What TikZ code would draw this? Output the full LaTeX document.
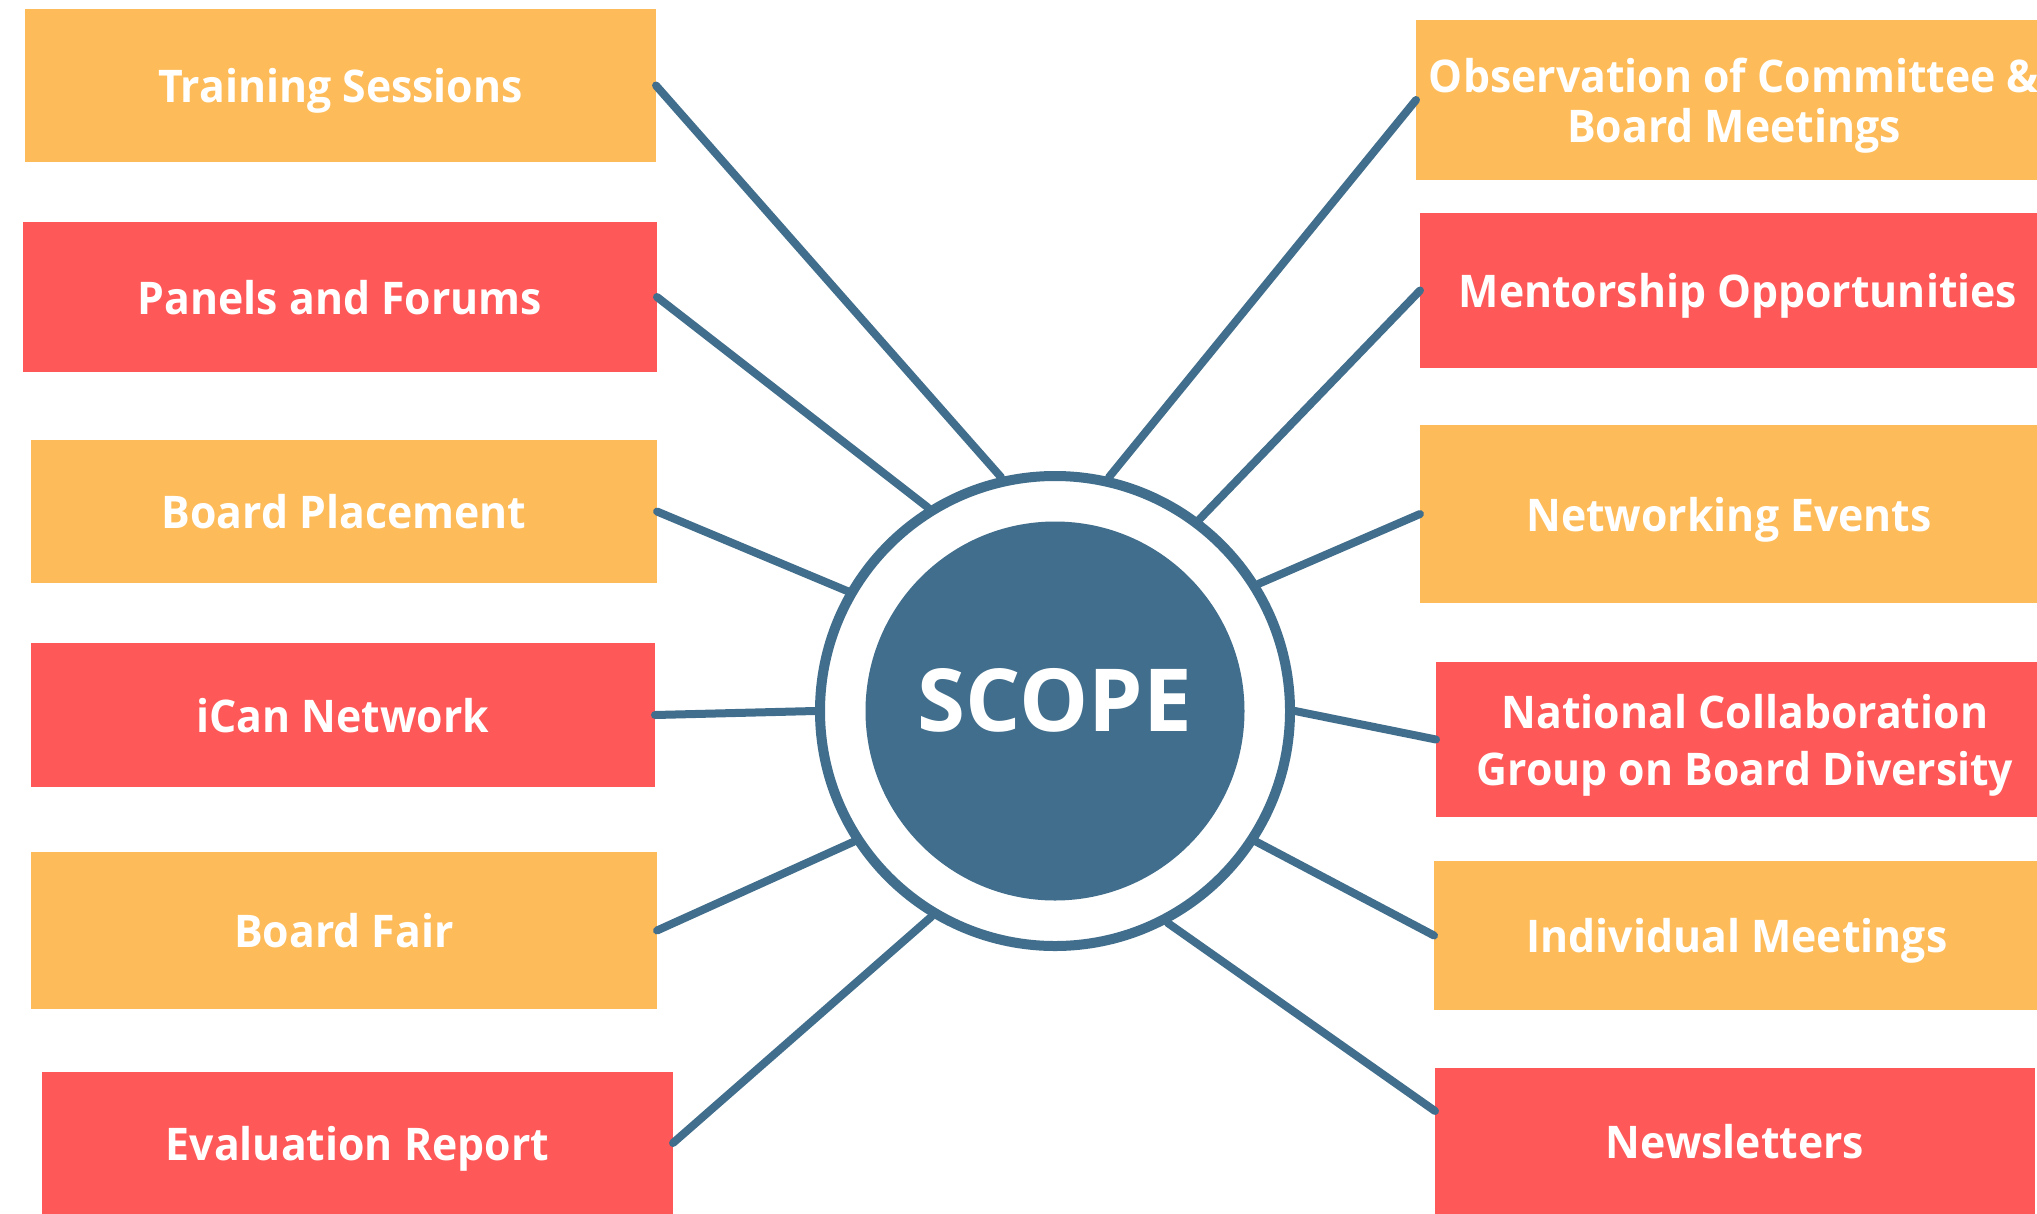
\documentclass[tikz,border=0pt]{standalone}
\usepackage{fontspec}
\setmainfont{Open Sans}
\newfontfamily\boxfont{Open Sans}[FakeStretch=0.95]
\definecolor{scopeblue}{HTML}{416E8C}
\definecolor{boxorange}{HTML}{FDBC59}
\definecolor{boxred}{HTML}{FF5858}
\begin{document}
\begin{tikzpicture}[
  x = 1pt, y = -1pt,
  every node/.style = {inner sep = 0pt, outer sep = 0pt, text = white,
                       text depth = 0pt,
                       font = \boxfont\bfseries\fontsize{45}{50}\selectfont},
  box/.style 2 args = {rectangle, align = center,
                       minimum width = #1, minimum height = #2},
  sand/.style 2 args = {box = {#1}{#2}, fill = boxorange},
  coral/.style 2 args = {box = {#1}{#2}, fill = boxred},
  ring/.style = {circle, draw = scopeblue, line width = 10pt,
                 minimum size = 470pt, outer sep = 5pt},
  hub/.style = {circle, fill = scopeblue, minimum size = 379pt},
  spoke/.style = {draw = scopeblue, line width = 8pt, line cap = round},
  ]
  \useasboundingbox (0,0) rectangle (2037,1213);
  \clip (0,0) rectangle (2037,1213);
  \fill[white] (0,0) rectangle (2037,1213);

  % centre
  \node[ring] (ring) at (1055,711) {};
  \node[hub] (hub) at (1055,711) {};
  \node[font = \bfseries\fontsize{87}{90}\selectfont] (scope)
    at ([yshift=11pt]hub.center) {SCOPE};

  % left column
  \node[sand={631pt}{153pt}]  (train)  at (340.5,85.5)  {Training Sessions};
  \node[coral={634pt}{150pt}] (panels) at (340,297)     {Panels and Forums};
  \node[sand={626pt}{143pt}]  (place)  at (344,511.5)   {Board Placement};
  \node[coral={624pt}{144pt}] (ican)   at (343,715)     {iCan Network};
  \node[sand={626pt}{157pt}]  (fair)   at (344,930.5)   {Board Fair};
  \node[coral={631pt}{142pt}] (eval)   at (357.5,1143)  {Evaluation Report};

  % right column
  \node[sand={636pt}{160pt}]  (observe) at (1734,100)
    {Observation of Committee \&\\Board Meetings};
  \node[coral={636pt}{155pt}] (mentor)  at (1738,290.5) {Mentorship Opportunities};
  \node[sand={618pt}{178pt}]  (network) at (1729,514)   {Networking Events};
  \node[coral={618pt}{155pt}] (nation)  at (1745,739.5)
    {National Collaboration\\[7pt]Group on Board Diversity};
  \node[sand={606pt}{149pt}]  (meet)    at (1737,935.5) {Individual Meetings};
  \node[coral={600pt}{146pt}] (news)    at (1735,1141)  {Newsletters};

  % spokes
  \draw[spoke] (train.east)  -- (ring.103.5);
  \draw[spoke] (panels.east) -- (ring.122.5);
  \draw[spoke] (place.east)  -- (ring.150.6);
  \draw[spoke] (ican.east)   -- (ring.180);
  \draw[spoke] (fair.east)   -- (ring.213.8);
  \draw[spoke] (eval.east)   -- (ring.239);
  \draw[spoke] (observe.west) -- (ring.77.8);
  \draw[spoke] (mentor.west)  -- (ring.53.1);
  \draw[spoke] (network.west) -- (ring.32);
  \draw[spoke] (nation.west)  -- (ring.0);
  \draw[spoke] (meet.west)    -- (ring.-33);
  \draw[spoke] ([yshift=30pt]news.west) -- (ring.-62.7);
\end{tikzpicture}
\end{document}
